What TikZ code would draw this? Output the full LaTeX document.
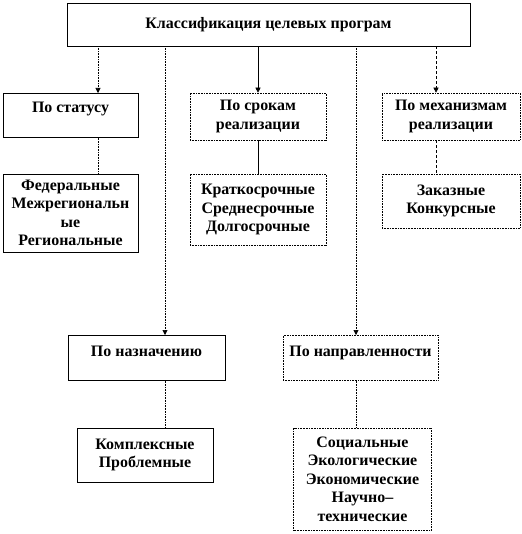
\documentclass[tikz,border=0pt]{standalone}
\usepackage{fontspec}
\setmainfont{Liberation Serif}
\usetikzlibrary{arrows.meta,positioning}
\tikzset{
  box/.style={draw=black,line width=0.6pt,align=center,inner sep=0pt,
    font=\bfseries\fontsize{16}{18.5}\selectfont},
  dotbox/.style={box,densely dotted},
  link/.style={line width=0.6pt,black},
  dotlink/.style={link,densely dotted},
  dashlink/.style={link,dash pattern=on 3bp off 2bp},
  tip/.style={-{Triangle[width=5bp,length=5bp]}}
}
\begin{document}
\begin{tikzpicture}[x=1bp,y=-1bp]
  \useasboundingbox (0,0) rectangle (522,534);
  \node[box,minimum width=403bp,minimum height=43bp] (top) at (268.5,24.5)
    {Классификация целевых програм};
  % categories
  \node[box,anchor=north,minimum width=135bp,text height=19bp,text depth=25bp]
    (pst) at (70.5,93) {По статусу};
  \node[dotbox,minimum width=136bp,minimum height=47bp] (psr) at (258,116.5)
    {По срокам\\реализации};
  \node[dotbox,minimum width=138bp,minimum height=47bp] (pmh) at (451,116.5)
    {По механизмам\\реализации};
  \node[box,anchor=north,minimum width=157bp,text height=21bp,text depth=24bp]
    (pnz) at (146.5,335) {По назначению};
  \node[dotbox,anchor=north,minimum width=155bp,text height=21bp,text depth=24bp]
    (pnp) at (360.5,335) {По направленности};
  % kinds
  \node[box,minimum width=135bp,minimum height=78bp] (kst) at (70.5,213)
    {Федеральные\\Межрегиональн\\ые\\Региональные};
  \node[dotbox,minimum width=136bp,minimum height=71bp] (ksr) at (258,209.5)
    {Краткосрочные\\Среднесрочные\\Долгосрочные};
  \node[dotbox,minimum width=138bp,minimum height=54bp] (kmh) at (451,201)
    {Заказные\\Конкурсные};
  \node[box,minimum width=136bp,minimum height=54bp] (knz) at (145,455)
    {Комплексные\\Проблемные};
  \node[dotbox,minimum width=138bp,minimum height=102bp] (knp) at (362.5,479)
    {Социальные\\Экологические\\Экономические\\Научно–\\технические};
  % line positions
  \coordinate (xst) at (98,0);
  \coordinate (xsr) at (258,0);
  \coordinate (xmh) at (436,0);
  \coordinate (xnz) at (165,0);
  \coordinate (xnp) at (356,0);
  % from the title
  \draw[dotlink,tip] (top.south -| xst) -- (pst.north -| xst);
  \draw[link,tip] (top.south -| xsr) -- (psr.north -| xsr);
  \draw[dashlink,tip] (top.south -| xmh) -- (pmh.north -| xmh);
  \draw[dotlink,tip] (top.south -| xnz) -- (pnz.north -| xnz);
  \draw[dotlink,tip] (top.south -| xnp) -- (pnp.north -| xnp);
  % to the kinds
  \draw[dotlink] (pst.south -| xst) -- (kst.north -| xst);
  \draw[link] (psr.south -| xsr) -- (ksr.north -| xsr);
  \draw[dashlink] (pmh.south -| xmh) -- (kmh.north -| xmh);
  \draw[dotlink] (pnz.south -| xnz) -- (knz.north -| xnz);
  \draw[dotlink] (pnp.south -| xnp) -- (knp.north -| xnp);
\end{tikzpicture}
\end{document}
